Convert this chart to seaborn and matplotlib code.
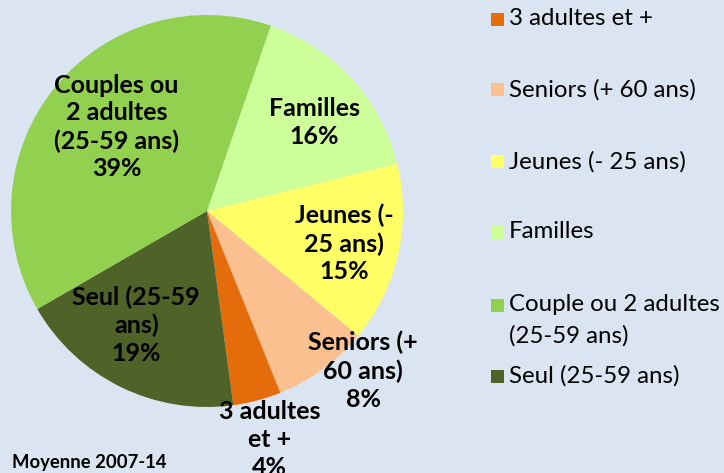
"""Pie chart of household types, average 2007-14."""
import numpy as np
import matplotlib
matplotlib.use("Agg")
import matplotlib.pyplot as plt
import seaborn as sns
from matplotlib.patches import Rectangle

# slices, clockwise from the top
categories = ["Familles", "Jeunes (- 25 ans)", "Seniors (+ 60 ans)", "3 adultes et +",
              "Seul (25-59 ans)", "Couple ou 2 adultes\n(25-59 ans)"]
shares = [16, 15, 8, 4, 19, 39]
slice_labels = ["Familles", "Jeunes (-\n25 ans)", "Seniors (+\n60 ans)", "3 adultes\net +",
                "Seul (25-59\nans)", "Couples ou\n2 adultes\n(25-59 ans)"]
colors = ["#ccff99", "#ffff66", "#fac090", "#e46c0a", "#4f6228", "#92d050"]
legend_order = ["3 adultes et +", "Seniors (+ 60 ans)", "Jeunes (- 25 ans)", "Familles",
                "Couple ou 2 adultes\n(25-59 ans)", "Seul (25-59 ans)"]
note = "Moyenne 2007-14"

# label placement: distance from centre (in radii) and nudge from the wedge middle (deg)
label_dist = [0.71, 0.72, 1.14, 1.21, 0.685, 0.63]
label_nudge = [-3.1, -0.6, 8.1, 0.5, -5.7, -3.4]

BG = "#dbe5f1"
FONT = "Lato"

sns.set_theme(style="white")
plt.rcParams["font.family"] = [FONT, "DejaVu Sans"]

W, H = 724, 473
fig = plt.figure(figsize=(W / 100, H / 100), dpi=100, facecolor=BG)

# pie centre (207, 211) px from top-left, radius 196 px
cx, cy, r = 207, 211, 196
ax = fig.add_axes([(cx - r) / W, (H - cy - r) / H, 2 * r / W, 2 * r / H])
ax.set_facecolor(BG)

palette = sns.color_palette(colors)
wedges, _ = ax.pie(shares, colors=palette, startangle=71, counterclock=False,
                   radius=1, wedgeprops=dict(linewidth=0))
ax.set_xlim(-1, 1)
ax.set_ylim(-1, 1)
ax.set_aspect("auto")
ax.axis("off")

for w, lab, val, d, nudge in zip(wedges, slice_labels, shares, label_dist, label_nudge):
    mid = np.deg2rad((w.theta1 + w.theta2) / 2 + nudge)
    ax.text(d * np.cos(mid), d * np.sin(mid), f"{lab}\n{val}%", ha="center", va="center",
            multialignment="center", fontsize=18, fontweight="bold", linespacing=1.25,
            color="black", clip_on=False)

# legend, drawn as squares + labels on the right
color_of = dict(zip(categories, palette))
legend_y = [19, 90, 162, 232, 305, 376]
for lab, y in zip(legend_order, legend_y):
    fig.patches.append(Rectangle((491 / W, 1 - (y + 6.5) / H), 13 / W, 13 / H,
                                 transform=fig.transFigure, facecolor=color_of[lab],
                                 edgecolor="none"))
    fig.text(509 / W, 1 - (y - 11) / H, lab, ha="left", va="top", fontsize=17.3,
             linespacing=1.6, color="black")

fig.text(12 / W, 1 - 462 / H, note, ha="left", va="center", fontsize=13.3,
         fontweight="bold", color="black")

fig.savefig("out.png", dpi=100, facecolor=BG)
